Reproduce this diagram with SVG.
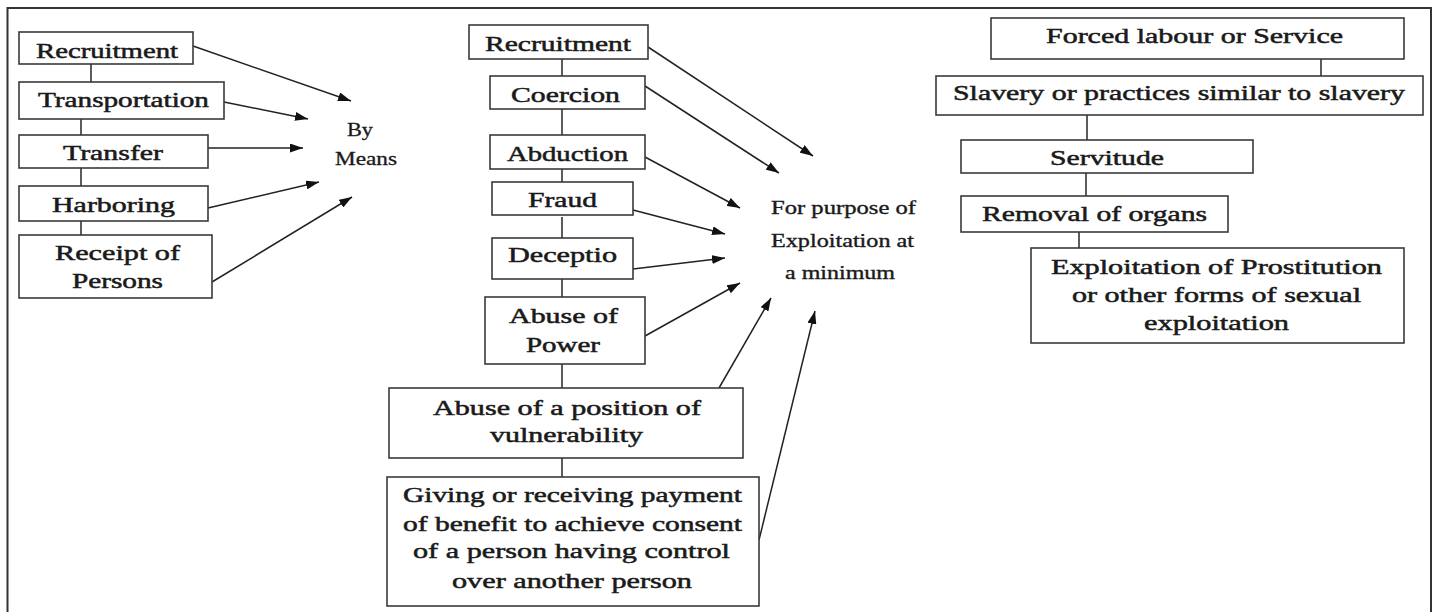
<svg xmlns="http://www.w3.org/2000/svg" width="1436" height="612" viewBox="0 0 1436 612">
<style>
.box{fill:#fff;stroke:#3a3a3a;stroke-width:1.6}
.t{font-family:"Liberation Serif","Times New Roman",serif;font-size:21px;fill:#1a1a1a;stroke:#1a1a1a;stroke-width:0.5}
.s{font-family:"Liberation Serif","Times New Roman",serif;font-size:19px;fill:#1a1a1a;stroke:#1a1a1a;stroke-width:0.3}
.p{font-family:"Liberation Serif","Times New Roman",serif;font-size:18px;fill:#1a1a1a;stroke:#1a1a1a;stroke-width:0.35}
.ln{stroke:#333;stroke-width:1.6;fill:none}
.ar{stroke:#222;stroke-width:1.5;fill:none;marker-end:url(#ah)}
</style>
<defs>
<marker id="ah" viewBox="0 0 13 9" refX="13" refY="4.5" markerWidth="13" markerHeight="9" markerUnits="userSpaceOnUse" orient="auto">
<path d="M0,0 L13,4.5 L0,9 z" fill="#111"/>
</marker>
</defs>
<rect width="1436" height="612" fill="#fff"/>
<path d="M7.5,612 V8 H1431 V612" fill="none" stroke="#333" stroke-width="2"/>

<g id="connectors">
<line class="ln" x1="91" y1="64" x2="91" y2="82"/>
<line class="ln" x1="81" y1="119" x2="81" y2="135"/>
<line class="ln" x1="81" y1="168" x2="81" y2="186"/>
<line class="ln" x1="81" y1="221" x2="81" y2="235"/>
<line class="ar" x1="193" y1="46" x2="351" y2="101"/>
<line class="ar" x1="224" y1="102" x2="308" y2="119"/>
<line class="ar" x1="208" y1="148" x2="303" y2="148"/>
<line class="ar" x1="208" y1="208" x2="319" y2="182"/>
<line class="ar" x1="212" y1="282" x2="352" y2="197"/>

<line class="ln" x1="562" y1="59" x2="562" y2="76"/>
<line class="ln" x1="562" y1="109" x2="562" y2="135"/>
<line class="ln" x1="562" y1="169" x2="562" y2="182"/>
<line class="ln" x1="562" y1="217" x2="562" y2="238"/>
<line class="ln" x1="562" y1="279" x2="562" y2="297"/>
<line class="ln" x1="562" y1="364" x2="562" y2="388"/>
<line class="ln" x1="562" y1="458" x2="562" y2="477"/>
<line class="ar" x1="648" y1="47" x2="813" y2="156"/>
<line class="ar" x1="645" y1="86" x2="779" y2="173"/>
<line class="ar" x1="645" y1="157" x2="740" y2="208"/>
<line class="ar" x1="633" y1="210" x2="725" y2="234"/>
<line class="ar" x1="633" y1="269" x2="725" y2="258"/>
<line class="ar" x1="645" y1="336" x2="740" y2="283"/>
<line class="ar" x1="719" y1="388" x2="771" y2="298"/>
<line class="ar" x1="759" y1="540" x2="815" y2="311"/>

<line class="ln" x1="1321" y1="59" x2="1321" y2="76"/>
<line class="ln" x1="1087" y1="115" x2="1087" y2="140"/>
<line class="ln" x1="1086" y1="173" x2="1086" y2="196"/>
<line class="ln" x1="1079" y1="232" x2="1079" y2="248"/>
</g>

<g id="l-recruitment"><rect class="box" x="19" y="32" width="174" height="32"/><text class="t" x="36" y="58" textLength="142" lengthAdjust="spacingAndGlyphs">Recruitment</text></g>
<g id="l-transportation"><rect class="box" x="19" y="82" width="205" height="37"/><text class="t" x="38" y="107" textLength="171" lengthAdjust="spacingAndGlyphs">Transportation</text></g>
<g id="l-transfer"><rect class="box" x="19" y="135" width="189" height="33"/><text class="t" x="63" y="160" textLength="100" lengthAdjust="spacingAndGlyphs">Transfer</text></g>
<g id="l-harboring"><rect class="box" x="19" y="186" width="189" height="35"/><text class="t" x="52" y="212" textLength="123" lengthAdjust="spacingAndGlyphs">Harboring</text></g>
<g id="l-receipt"><rect class="box" x="19" y="235" width="193" height="63"/><text class="t" x="55" y="260" textLength="125" lengthAdjust="spacingAndGlyphs">Receipt of</text><text class="t" x="72" y="288" textLength="91" lengthAdjust="spacingAndGlyphs">Persons</text></g>
<g id="by-means"><text class="s" x="347" y="136" textLength="26" lengthAdjust="spacingAndGlyphs">By</text><text class="s" x="335" y="165" textLength="62" lengthAdjust="spacingAndGlyphs">Means</text></g>

<g id="m-recruitment"><rect class="box" x="469" y="25" width="179" height="34"/><text class="t" x="485" y="51" textLength="146" lengthAdjust="spacingAndGlyphs">Recruitment</text></g>
<g id="m-coercion"><rect class="box" x="490" y="76" width="155" height="33"/><text class="t" x="511" y="102" textLength="109" lengthAdjust="spacingAndGlyphs">Coercion</text></g>
<g id="m-abduction"><rect class="box" x="490" y="135" width="155" height="34"/><text class="t" x="507" y="161" textLength="121" lengthAdjust="spacingAndGlyphs">Abduction</text></g>
<g id="m-fraud"><rect class="box" x="492" y="182" width="141" height="33"/><text class="t" x="528" y="207" textLength="69" lengthAdjust="spacingAndGlyphs">Fraud</text></g>
<g id="m-deceptio"><rect class="box" x="492" y="238" width="141" height="41"/><text class="t" x="508" y="262" textLength="109" lengthAdjust="spacingAndGlyphs">Deceptio</text></g>
<g id="m-abuse-power"><rect class="box" x="485" y="297" width="160" height="67"/><text class="t" x="509" y="323" textLength="109" lengthAdjust="spacingAndGlyphs">Abuse of</text><text class="t" x="526" y="352" textLength="74" lengthAdjust="spacingAndGlyphs">Power</text></g>
<g id="m-abuse-position"><rect class="box" x="389" y="388" width="354" height="70"/><text class="t" x="433" y="415" textLength="268" lengthAdjust="spacingAndGlyphs">Abuse of a position of</text><text class="t" x="490" y="442" textLength="153" lengthAdjust="spacingAndGlyphs">vulnerability</text></g>
<g id="m-giving"><rect class="box" x="387" y="477" width="372" height="129"/><text class="t" x="403" y="502" textLength="339" lengthAdjust="spacingAndGlyphs">Giving or receiving payment</text><text class="t" x="403" y="531" textLength="339" lengthAdjust="spacingAndGlyphs">of benefit to achieve consent</text><text class="t" x="413" y="558" textLength="317" lengthAdjust="spacingAndGlyphs">of a person having control</text><text class="t" x="452" y="588" textLength="240" lengthAdjust="spacingAndGlyphs">over another person</text></g>
<g id="purpose"><text class="p" x="771" y="214" textLength="145" lengthAdjust="spacingAndGlyphs">For purpose of</text><text class="p" x="771" y="247" textLength="143" lengthAdjust="spacingAndGlyphs">Exploitation at</text><text class="p" x="785" y="279" textLength="110" lengthAdjust="spacingAndGlyphs">a minimum</text></g>

<g id="r-forced"><rect class="box" x="991" y="18" width="413" height="41"/><text class="t" x="1046" y="43" textLength="297" lengthAdjust="spacingAndGlyphs">Forced labour or Service</text></g>
<g id="r-slavery"><rect class="box" x="936" y="76" width="487" height="39"/><text class="t" x="953" y="100" textLength="452" lengthAdjust="spacingAndGlyphs">Slavery or practices similar to slavery</text></g>
<g id="r-servitude"><rect class="box" x="961" y="140" width="292" height="33"/><text class="t" x="1050" y="165" textLength="114" lengthAdjust="spacingAndGlyphs">Servitude</text></g>
<g id="r-removal"><rect class="box" x="961" y="196" width="267" height="36"/><text class="t" x="982" y="221" textLength="225" lengthAdjust="spacingAndGlyphs">Removal of organs</text></g>
<g id="r-exploitation"><rect class="box" x="1031" y="248" width="373" height="95"/><text class="t" x="1051" y="274" textLength="331" lengthAdjust="spacingAndGlyphs">Exploitation of Prostitution</text><text class="t" x="1072" y="302" textLength="289" lengthAdjust="spacingAndGlyphs">or other forms of sexual</text><text class="t" x="1144" y="330" textLength="145" lengthAdjust="spacingAndGlyphs">exploitation</text></g>
</svg>
